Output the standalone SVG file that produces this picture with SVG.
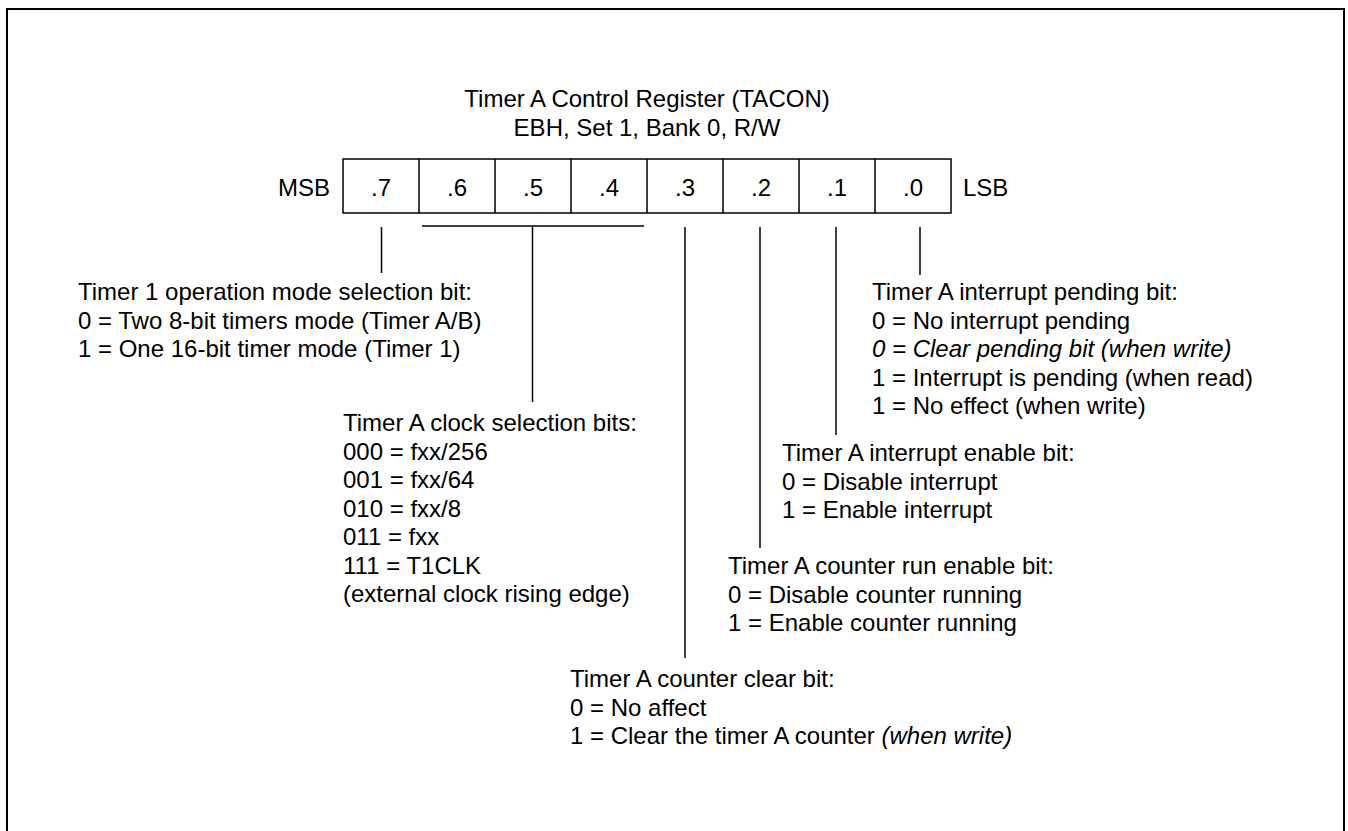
<svg xmlns="http://www.w3.org/2000/svg" width="1348" height="831" viewBox="0 0 1348 831">
<style>
text{font-family:"Liberation Sans",Arial,sans-serif;font-size:24px;fill:#000}
.c{text-anchor:middle}
.i{font-style:italic}
.ln{stroke:#000;stroke-width:1.5;fill:none}
.box{stroke:#000;stroke-width:1.5;fill:#fff}
</style>
<rect x="7" y="9" width="1337" height="900" fill="#fff" stroke="#000" stroke-width="2"/>
<g id="title">
<text class="c" x="647" y="107">Timer A Control Register (TACON)</text>
<text class="c" x="647" y="136">EBH, Set 1, Bank 0, R/W</text>
</g>
<g id="register">
<rect class="box" x="343" y="159" width="608" height="54"/>
<path class="ln" d="M419 159V213M495 159V213M571 159V213M647 159V213M723 159V213M799 159V213M875 159V213"/>
<text x="330" y="196" text-anchor="end">MSB</text>
<text x="963" y="196">LSB</text>
<text class="c" x="381" y="196">.7</text>
<text class="c" x="457" y="196">.6</text>
<text class="c" x="533" y="196">.5</text>
<text class="c" x="609" y="196">.4</text>
<text class="c" x="685" y="196">.3</text>
<text class="c" x="761" y="196">.2</text>
<text class="c" x="837" y="196">.1</text>
<text class="c" x="913" y="196">.0</text>
</g>
<g id="connectors">
<path class="ln" d="M381.5 227V273"/>
<path class="ln" d="M422 226H644M532.5 226V402"/>
<path class="ln" d="M685 227V658"/>
<path class="ln" d="M760 227V548"/>
<path class="ln" d="M836 227V435"/>
<path class="ln" d="M920 227V275"/>
</g>
<g id="bit7">
<text x="78" y="300">Timer 1 operation mode selection bit:</text>
<text x="78" y="328.5">0 = Two 8-bit timers mode (Timer A/B)</text>
<text x="78" y="357">1 = One 16-bit timer mode (Timer 1)</text>
</g>
<g id="bit6-4">
<text x="343" y="431">Timer A clock selection bits:</text>
<text x="343" y="459.5">000 = fxx/256</text>
<text x="343" y="488">001 = fxx/64</text>
<text x="343" y="516.5">010 = fxx/8</text>
<text x="343" y="545">011 = fxx</text>
<text x="343" y="573.5">111 = T1CLK</text>
<text x="343" y="602">(external clock rising edge)</text>
</g>
<g id="bit3">
<text x="570" y="687">Timer A counter clear bit:</text>
<text x="570" y="715.5">0 = No affect</text>
<text x="570" y="744">1 = Clear the timer A counter <tspan class="i">(when write)</tspan></text>
</g>
<g id="bit2">
<text x="728" y="574">Timer A counter run enable bit:</text>
<text x="728" y="602.5">0 = Disable counter running</text>
<text x="728" y="631">1 = Enable counter running</text>
</g>
<g id="bit1">
<text x="782" y="461">Timer A interrupt enable bit:</text>
<text x="782" y="489.5">0 = Disable interrupt</text>
<text x="782" y="518">1 = Enable interrupt</text>
</g>
<g id="bit0">
<text x="872" y="300">Timer A interrupt pending bit:</text>
<text x="872" y="328.5">0 = No interrupt pending</text>
<text x="872" y="357" class="i">0 = Clear pending bit (when write)</text>
<text x="872" y="385.5">1 = Interrupt is pending (when read)</text>
<text x="872" y="414">1 = No effect (when write)</text>
</g>
</svg>
